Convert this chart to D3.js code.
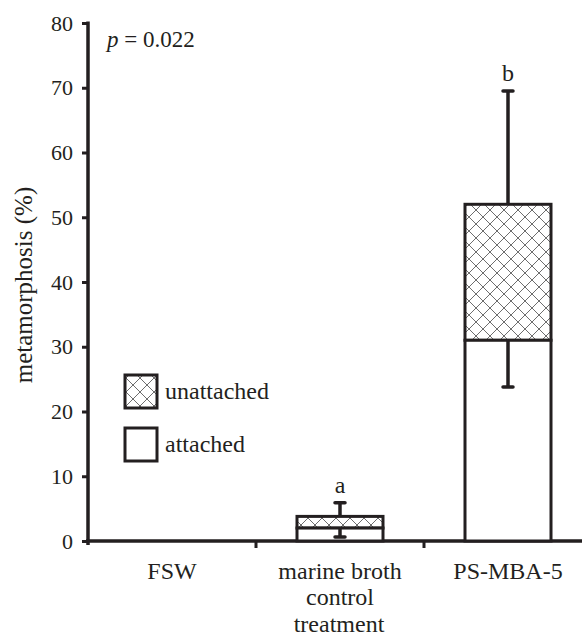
<!DOCTYPE html>
<html>
<head>
<meta charset="utf-8">
<script src="https://cdn.jsdelivr.net/npm/d3@7"></script>
<style>
  body { margin: 0; background: #fff; }
  svg { display: block; }
  text { font-family: "Liberation Serif", "Times New Roman", serif; fill: #231f20; }
</style>
</head>
<body>
<script>
// data
var categories = ['FSW', 'marine broth control', 'PS-MBA-5'];
var attached = [null, 2.0, 31.0];        // lower segment
var unattached = [null, 1.8, 21.0];      // upper segment (stacked)
var attachedErrLow = [null, 0.6, 23.8];  // lower whisker end
var totalErrHigh = [null, 5.9, 69.5];    // upper whisker end
var letters = [null, 'a', 'b'];
var yTicks = [0, 10, 20, 30, 40, 50, 60, 70, 80];

var width = 582, height = 643;
var ink = '#231f20';

var svg = d3.select('body').append('svg')
	.attr('width', width)
	.attr('height', height);

var defs = svg.append('defs');
var pat = defs.append('pattern')
	.attr('id', 'hatch')
	.attr('patternUnits', 'userSpaceOnUse')
	.attr('width', 14)
	.attr('height', 14);
pat.append('rect').attr('width', 14).attr('height', 14).attr('fill', '#fff');
pat.append('path')
	.attr('d', 'M0,0L14,14M14,0L0,14M-7,7L7,-7M7,21L21,7M-7,7L7,21M7,-7L21,7')
	.attr('stroke', '#6d6d6d')
	.attr('stroke-width', 1);

var y = d3.scaleLinear().domain([0, 80]).range([541, 23]);
var x = d3.scaleBand().domain(categories).range([88, 592]).padding(0);
var barW = 86;

// y axis
var yAxis = svg.append('g')
	.attr('transform', 'translate(88,0)')
	.call(d3.axisLeft(y).tickValues(yTicks).tickSize(6).tickPadding(9));
yAxis.select('.domain').remove();
yAxis.selectAll('line').attr('stroke', ink).attr('stroke-width', 3);
yAxis.selectAll('text').attr('font-size', 22).attr('font-family', 'Liberation Serif').attr('fill', ink);
svg.append('line')
	.attr('x1', 88).attr('x2', 88)
	.attr('y1', y(80) - 1.5).attr('y2', y(0) + 4)
	.attr('stroke', ink).attr('stroke-width', 3.5);

// x axis line + ticks between categories
svg.append('line')
	.attr('x1', 86).attr('x2', width)
	.attr('y1', y(0)).attr('y2', y(0))
	.attr('stroke', ink).attr('stroke-width', 3.5);
svg.selectAll('.xtick')
	.data(categories.slice(1))
	.enter().append('line')
	.attr('x1', function(d) { return x(d); })
	.attr('x2', function(d) { return x(d); })
	.attr('y1', y(0)).attr('y2', y(0) + 7)
	.attr('stroke', ink).attr('stroke-width', 3);

// category labels
var xlabels = [['FSW'], ['marine broth', 'control'], ['PS-MBA-5']];
categories.forEach(function(c, i) {
	var t = svg.append('text')
		.attr('x', x(c) + x.bandwidth() / 2)
		.attr('y', 579)
		.attr('text-anchor', 'middle')
		.attr('font-size', 24);
	xlabels[i].forEach(function(s, j) {
		t.append('tspan')
			.attr('x', x(c) + x.bandwidth() / 2)
			.attr('dy', j == 0 ? 0 : 26)
			.text(s);
	});
});
svg.append('text')
	.attr('x', 339).attr('y', 632)
	.attr('text-anchor', 'middle')
	.attr('font-size', 24)
	.text('treatment');

// y axis title
svg.append('text')
	.attr('transform', 'translate(32,285) rotate(-90)')
	.attr('text-anchor', 'middle')
	.attr('font-size', 25)
	.text('metamorphosis (%)');

// bars
var bars = svg.append('g');
categories.forEach(function(c, i) {
	if (attached[i] == null) return;
	var x0 = x(c) + (x.bandwidth() - barW) / 2;
	var cx = x(c) + x.bandwidth() / 2;
	var top = attached[i] + unattached[i];

	// error bars first so the boxes sit over them
	bars.append('line')
		.attr('x1', cx).attr('x2', cx)
		.attr('y1', y(top)).attr('y2', y(totalErrHigh[i]))
		.attr('stroke', ink).attr('stroke-width', 3.5);
	bars.append('line')
		.attr('x1', cx - 5).attr('x2', cx + 5)
		.attr('y1', y(totalErrHigh[i])).attr('y2', y(totalErrHigh[i]))
		.attr('stroke', ink).attr('stroke-width', 3.5).attr('stroke-linecap', 'round');

	bars.append('rect')
		.attr('x', x0).attr('width', barW)
		.attr('y', y(top)).attr('height', y(attached[i]) - y(top))
		.attr('fill', 'url(#hatch)')
		.attr('stroke', ink).attr('stroke-width', 3);
	bars.append('rect')
		.attr('x', x0).attr('width', barW)
		.attr('y', y(attached[i])).attr('height', y(0) - y(attached[i]))
		.attr('fill', '#fff')
		.attr('stroke', ink).attr('stroke-width', 3);

	bars.append('line')
		.attr('x1', cx).attr('x2', cx)
		.attr('y1', y(attached[i])).attr('y2', y(attachedErrLow[i]))
		.attr('stroke', ink).attr('stroke-width', 3.5);
	bars.append('line')
		.attr('x1', cx - 5).attr('x2', cx + 5)
		.attr('y1', y(attachedErrLow[i])).attr('y2', y(attachedErrLow[i]))
		.attr('stroke', ink).attr('stroke-width', 3.5).attr('stroke-linecap', 'round');

	bars.append('text')
		.attr('x', cx)
		.attr('y', y(totalErrHigh[i]) - 10)
		.attr('text-anchor', 'middle')
		.attr('font-size', 24)
		.text(letters[i]);
});

// legend
var legend = [['unattached', 'url(#hatch)'], ['attached', '#fff']];
legend.forEach(function(d, i) {
	var ly = 375 + i * 53;
	svg.append('rect')
		.attr('x', 125).attr('y', ly)
		.attr('width', 32).attr('height', 33)
		.attr('fill', d[1])
		.attr('stroke', ink).attr('stroke-width', 3);
	svg.append('text')
		.attr('x', 165).attr('y', ly + 24)
		.attr('font-size', 24)
		.text(d[0]);
});

// p value
var p = svg.append('text')
	.attr('x', 107).attr('y', 47)
	.attr('font-size', 23);
p.append('tspan').attr('font-style', 'italic').text('p');
p.append('tspan').text(' = 0.022');
</script>
</body>
</html>
